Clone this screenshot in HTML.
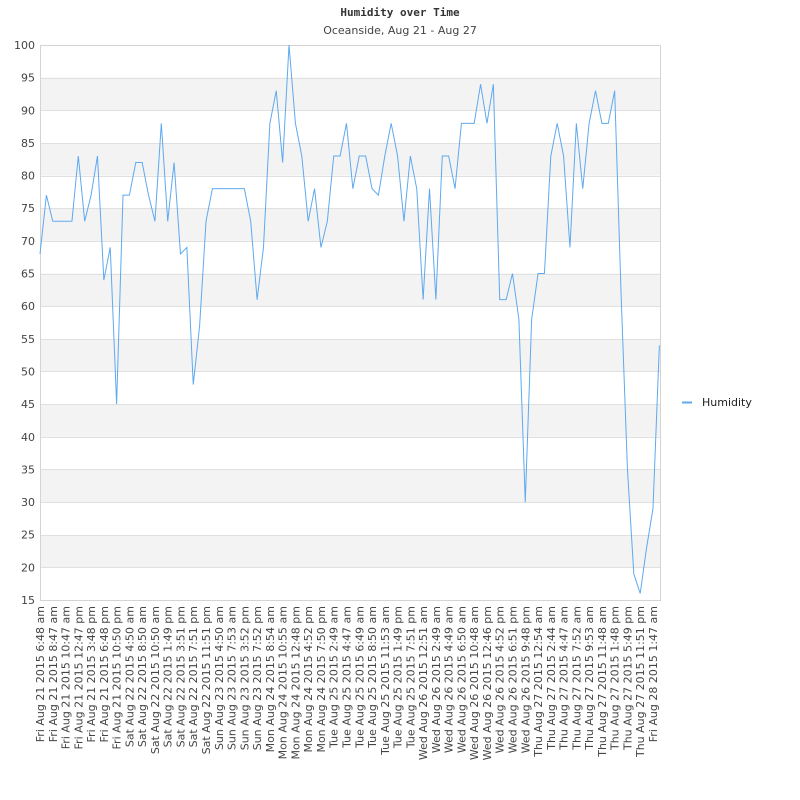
<!DOCTYPE html>
<html><head><meta charset="utf-8"><style>
html,body{margin:0;padding:0;background:#fff;}
svg{display:block;}
text{font-family:"DejaVu Sans","Liberation Sans",sans-serif;fill:#444;}
</style></head><body>
<svg id="chart" width="800" height="800" xmlns="http://www.w3.org/2000/svg">
<text x="400" y="16" text-anchor="middle" style="font-family:'DejaVu Sans Mono','Liberation Mono',monospace;font-weight:bold;font-size:11px;fill:#333">Humidity over Time</text>
<text x="400" y="34" text-anchor="middle" style="font-size:11px;fill:#444">Oceanside, Aug 21 - Aug 27</text>
<g id="bands"></g>
<g id="grid"></g>
<g id="yaxis"></g>
<g id="xaxis"></g>
<rect x="40.5" y="45.5" width="620" height="555" fill="none" stroke="#d4d4d4"/>
<polyline id="line" fill="none" stroke="#5ea9f0" stroke-width="1"/>
<g>
<line x1="682" y1="402.5" x2="692" y2="402.5" stroke="#5ea9f0" stroke-width="2"/>
<text x="702" y="406" style="font-size:11px;fill:#222">Humidity</text>
</g>
</svg>
<script>
const values = [68,77,73,73,73,73,83,73,77,83,64,69,45,77,77,82,82,77,73,88,73,82,68,69,48,57,73,78,78,78,78,78,78,73,61,69,88,93,82,100,88,83,73,78,69,73,83,83,88,78,83,83,78,77,83,88,83,73,83,78,61,78,61,83,83,78,88,88,88,94,88,94,61,61,65,58,30,58,65,65,83,88,83,69,88,78,88,93,88,88,93,62,35,19,16,23,29,54];
const xLabels = ["Fri Aug 21 2015 6:48 am","Fri Aug 21 2015 8:47 am","Fri Aug 21 2015 10:47 am","Fri Aug 21 2015 12:47 pm","Fri Aug 21 2015 3:48 pm","Fri Aug 21 2015 6:48 pm","Fri Aug 21 2015 10:50 pm","Sat Aug 22 2015 4:50 am","Sat Aug 22 2015 8:50 am","Sat Aug 22 2015 10:50 am","Sat Aug 22 2015 1:49 pm","Sat Aug 22 2015 3:51 pm","Sat Aug 22 2015 7:51 pm","Sat Aug 22 2015 11:51 pm","Sun Aug 23 2015 4:50 am","Sun Aug 23 2015 7:53 am","Sun Aug 23 2015 3:52 pm","Sun Aug 23 2015 7:52 pm","Mon Aug 24 2015 8:54 am","Mon Aug 24 2015 10:55 am","Mon Aug 24 2015 12:48 pm","Mon Aug 24 2015 4:52 pm","Mon Aug 24 2015 7:50 pm","Tue Aug 25 2015 2:49 am","Tue Aug 25 2015 4:47 am","Tue Aug 25 2015 6:49 am","Tue Aug 25 2015 8:50 am","Tue Aug 25 2015 11:53 am","Tue Aug 25 2015 1:49 pm","Tue Aug 25 2015 7:51 pm","Wed Aug 26 2015 12:51 am","Wed Aug 26 2015 2:49 am","Wed Aug 26 2015 4:49 am","Wed Aug 26 2015 6:50 am","Wed Aug 26 2015 10:48 am","Wed Aug 26 2015 12:46 pm","Wed Aug 26 2015 4:52 pm","Wed Aug 26 2015 6:51 pm","Wed Aug 26 2015 9:48 pm","Thu Aug 27 2015 12:54 am","Thu Aug 27 2015 2:44 am","Thu Aug 27 2015 4:47 am","Thu Aug 27 2015 7:52 am","Thu Aug 27 2015 9:53 am","Thu Aug 27 2015 11:48 am","Thu Aug 27 2015 1:48 pm","Thu Aug 27 2015 5:49 pm","Thu Aug 27 2015 11:51 pm","Fri Aug 28 2015 1:47 am"];
const yTicks = [15,20,25,30,35,40,45,50,55,60,65,70,75,80,85,90,95,100];

const NS = "http://www.w3.org/2000/svg";
const L = 40, R = 660, T = 45, B = 600, yMin = 15, yMax = 100;
const n = values.length;
function xs(i){ return L + i * (R - L) / (n - 1 + 0.1); }
function ys(v){ return B - (v - yMin) / (yMax - yMin) * (B - T); }
function mk(tag, attrs){ const e = document.createElementNS(NS, tag); for (const k in attrs) e.setAttribute(k, attrs[k]); return e; }

const bands = document.getElementById('bands');
const grid = document.getElementById('grid');
const yaxis = document.getElementById('yaxis');
for (let k = 0; k < yTicks.length; k++) {
  const v = yTicks[k];
  if (k < yTicks.length - 1 && v % 10 === 0 && v >= 20) {
    const r = mk('rect', {x: L, y: ys(v + 5), width: R - L, height: ys(v) - ys(v + 5), fill: '#f3f3f3'});
    
    
    bands.appendChild(r);
  }
  const y = Math.round(ys(v)) + 0.5;
  const ln = mk('line', {x1: L, x2: R, y1: y, y2: y, stroke: '#e0e0e0'});
  
  
  grid.appendChild(ln);
  const t = mk('text', {x: 35, y: ys(v) + 4, 'text-anchor': 'end', style: 'font-size:11px'});
  
  
  t.textContent = v;
  yaxis.appendChild(t);
}

const xaxis = document.getElementById('xaxis');
xLabels.forEach((lab, j) => {
  const x = xs(j * 2) + 4;
  const t = mk('text', {x: 0, y: 0, 'text-anchor': 'end', transform: `translate(${x},606) rotate(-90)`, style: 'font-size:11px'});
  
  
  t.textContent = lab;
  xaxis.appendChild(t);
});

document.getElementById('line').setAttribute('points', values.map((v, i) => xs(i).toFixed(2) + ',' + ys(v).toFixed(2)).join(' '));
</script>
</body></html>
